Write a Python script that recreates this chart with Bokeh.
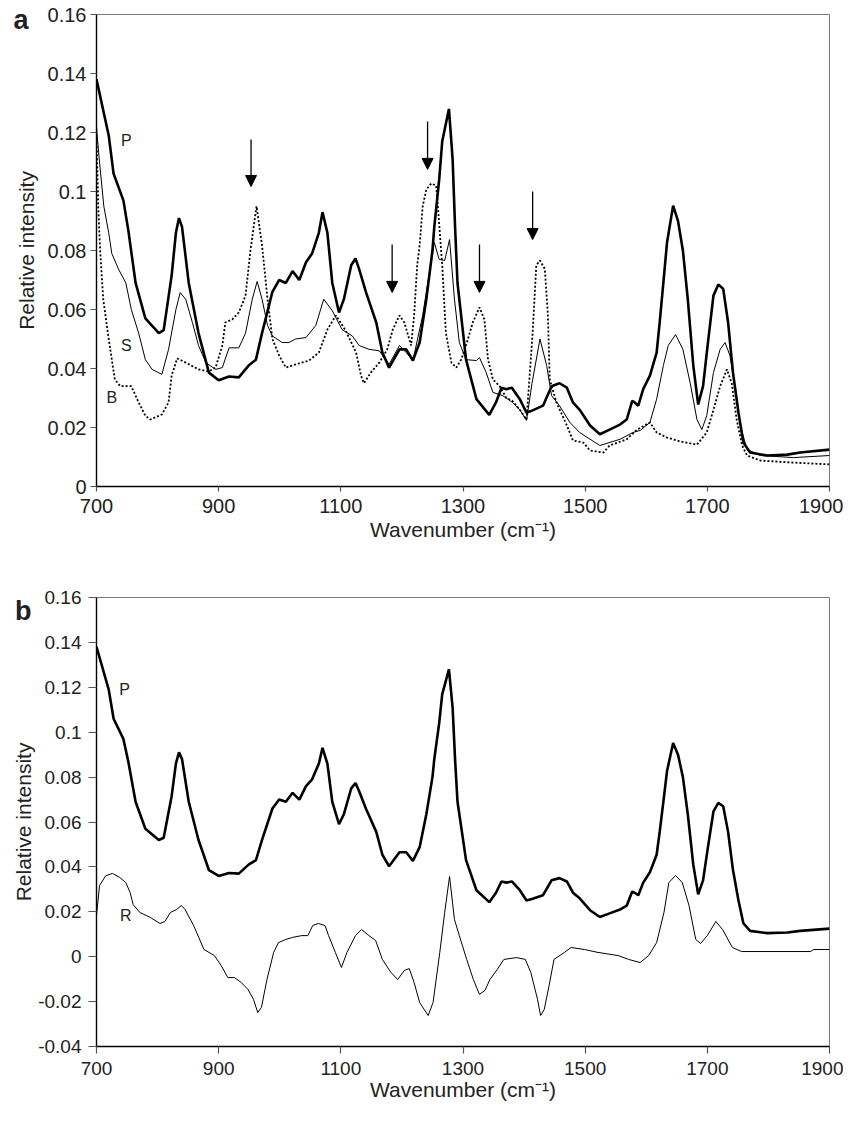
from bokeh.plotting import figure
from bokeh.layouts import column
from bokeh.models import (FixedTicker, CustomJSTickFormatter, Arrow, NormalHead, Label, Range1d,
                          LinearAxis)
from bokeh.embed import file_html
from bokeh.resources import INLINE

FONT = "Liberation Sans"
TXT = "#222222"

# ---------------- data ----------------
P_x = [700, 720, 728, 744, 752, 764, 780, 802, 810, 823, 830, 835, 840, 851, 867, 884, 900, 917, 933, 949,
       961, 971, 988, 999, 1010, 1021, 1032, 1043, 1053, 1064, 1070, 1078, 1086, 1097, 1105, 1117, 1124, 1130,
       1141, 1158, 1168, 1179, 1196, 1207, 1218, 1229, 1240, 1250, 1253, 1261, 1266, 1277, 1283, 1287, 1291,
       1305, 1322, 1343, 1354, 1363, 1371, 1380, 1393, 1404, 1414, 1431, 1445, 1458, 1470, 1480, 1491, 1508,
       1524, 1540, 1557, 1568, 1577, 1581, 1587, 1595, 1606, 1617, 1622, 1628, 1634, 1644, 1652, 1660, 1668,
       1677, 1685, 1693, 1701, 1710, 1718, 1726, 1734, 1742, 1751, 1759, 1770, 1798, 1831, 1852, 1900]
P_y = [0.138, 0.119, 0.106, 0.097, 0.087, 0.069, 0.057, 0.052, 0.053, 0.0715, 0.086, 0.091, 0.088, 0.069,
       0.052, 0.0386, 0.036, 0.0373, 0.037, 0.041, 0.043, 0.052, 0.066, 0.070, 0.069, 0.073, 0.070, 0.076,
       0.079, 0.086, 0.093, 0.086, 0.069, 0.059, 0.0635, 0.075, 0.0773, 0.0737, 0.066, 0.0556, 0.0454, 0.0403,
       0.0465, 0.0465, 0.0427, 0.0488, 0.0635, 0.080, 0.088, 0.104, 0.117, 0.128, 0.111, 0.088, 0.069, 0.043,
       0.0296, 0.0243, 0.0285, 0.0335, 0.033, 0.0335, 0.0296, 0.025, 0.0258, 0.0274, 0.034, 0.035, 0.0335,
       0.0285, 0.026, 0.0207, 0.0177, 0.0193, 0.021, 0.0227, 0.029, 0.0285, 0.0274, 0.033, 0.0376, 0.0454,
       0.0556, 0.069, 0.0827, 0.0952, 0.090, 0.080, 0.0635, 0.041, 0.0278, 0.034, 0.0488, 0.0647, 0.0685,
       0.067, 0.0556, 0.0386, 0.025, 0.0149, 0.0115, 0.0105, 0.0108, 0.0115, 0.0125]

S_x = [700, 704, 712, 720, 725, 736, 748, 757, 769, 780, 791, 807, 818, 830, 837, 846, 857, 867, 879, 895,
       906, 917, 933, 944, 955, 963, 971, 980, 988, 1004, 1015, 1026, 1043, 1059, 1072, 1086, 1102, 1119, 1130,
       1146, 1163, 1179, 1196, 1207, 1218, 1234, 1245, 1253, 1261, 1270, 1278, 1286, 1294, 1305, 1322, 1327,
       1338, 1349, 1365, 1381, 1393, 1404, 1413, 1426, 1437, 1445, 1458, 1475, 1491, 1524, 1557, 1578, 1590,
       1606, 1617, 1628, 1636, 1648, 1660, 1672, 1683, 1691, 1699, 1710, 1721, 1729, 1737, 1746, 1754, 1765,
       1787, 1841, 1900]
S_y = [0.122, 0.112, 0.095, 0.086, 0.079, 0.0737, 0.069, 0.060, 0.052, 0.043, 0.0397, 0.038, 0.0465, 0.060,
       0.0657, 0.0635, 0.0556, 0.0478, 0.042, 0.0397, 0.0403, 0.047, 0.047, 0.052, 0.0635, 0.0695, 0.0635,
       0.0546, 0.051, 0.0488, 0.0488, 0.050, 0.0505, 0.0546, 0.0635, 0.0596, 0.0532, 0.051, 0.0478, 0.0465,
       0.046, 0.0414, 0.0478, 0.0454, 0.0427, 0.058, 0.0725, 0.0827, 0.077, 0.0766, 0.0837, 0.0635, 0.0488,
       0.043, 0.0427, 0.0437, 0.0386, 0.0319, 0.0308, 0.0285, 0.026, 0.0224, 0.035, 0.050, 0.041, 0.0308,
       0.0274, 0.0217, 0.0183, 0.0139, 0.016, 0.0183, 0.019, 0.0217, 0.0296, 0.041, 0.0478, 0.0515, 0.0465,
       0.035, 0.0227, 0.0193, 0.024, 0.0386, 0.0465, 0.0488, 0.0444, 0.033, 0.0207, 0.0125, 0.0105, 0.0098,
       0.0105]

B_x = [700, 703, 706, 711, 720, 730, 739, 757, 769, 780, 788, 807, 818, 823, 832, 846, 867, 884, 895, 906,
       911, 922, 933, 944, 952, 962, 971, 980, 988, 999, 1010, 1026, 1048, 1064, 1078, 1092, 1108, 1125, 1133,
       1138, 1149, 1163, 1176, 1185, 1196, 1204, 1215, 1220, 1225, 1229, 1234, 1240, 1248, 1256, 1260, 1264,
       1266, 1272, 1281, 1289, 1297, 1305, 1316, 1327, 1335, 1341, 1349, 1360, 1371, 1381, 1393, 1404, 1414,
       1420, 1426, 1434, 1439, 1442, 1453, 1470, 1480, 1497, 1508, 1530, 1540, 1568, 1585, 1606, 1617, 1634,
       1655, 1683, 1699, 1710, 1721, 1732, 1740, 1748, 1757, 1765, 1787, 1841, 1900]
B_y = [0.118, 0.094, 0.080, 0.0635, 0.050, 0.0363, 0.034, 0.034, 0.0285, 0.024, 0.0227, 0.0244, 0.0285,
       0.0376, 0.0434, 0.042, 0.0397, 0.039, 0.0403, 0.0478, 0.0556, 0.0566, 0.059, 0.0647, 0.080, 0.095,
       0.0817, 0.0635, 0.050, 0.0444, 0.0403, 0.0414, 0.0427, 0.0454, 0.0532, 0.058, 0.0528, 0.0454, 0.0376,
       0.035, 0.0386, 0.042, 0.0465, 0.0532, 0.058, 0.0556, 0.0478, 0.058, 0.075, 0.0817, 0.095, 0.1007,
       0.1027, 0.102, 0.0918, 0.0805, 0.075, 0.052, 0.042, 0.0403, 0.043, 0.0478, 0.0556, 0.0607, 0.0566,
       0.043, 0.0363, 0.034, 0.030, 0.029, 0.026, 0.0227, 0.052, 0.075, 0.0766, 0.0737, 0.058, 0.0363, 0.0285,
       0.0207, 0.0156, 0.0149, 0.0122, 0.0115, 0.0139, 0.016, 0.0193, 0.0217, 0.0183, 0.0166, 0.0153, 0.0142,
       0.0183, 0.026, 0.034, 0.0397, 0.035, 0.0227, 0.0139, 0.0105, 0.0088, 0.0081, 0.0075]

R_x = [700, 705, 715, 726, 738, 748, 755, 760, 771, 788, 804, 812, 821, 831, 839, 845, 859, 876, 893, 904,
       915, 926, 937, 948, 957, 964, 970, 979, 990, 998, 1010, 1021, 1036, 1046, 1054, 1063, 1074, 1080, 1091,
       1101, 1110, 1124, 1134, 1146, 1157, 1168, 1182, 1193, 1204, 1212, 1220, 1229, 1243, 1251, 1262, 1270,
       1278, 1286, 1294, 1306, 1317, 1327, 1336, 1344, 1356, 1367, 1388, 1402, 1411, 1422, 1427, 1433, 1441,
       1449, 1466, 1477, 1499, 1521, 1554, 1571, 1590, 1604, 1617, 1629, 1637, 1648, 1659, 1670, 1681, 1689,
       1700, 1714, 1725, 1741, 1756, 1869, 1874, 1900]
R_y = [0.0184, 0.0317, 0.036, 0.0371, 0.0353, 0.033, 0.0286, 0.0232, 0.0197, 0.0175, 0.0148, 0.0157,
       0.0197, 0.021, 0.0228, 0.021, 0.0139, 0.0032, 0.0005, -0.0039, -0.0093, -0.0093, -0.0115, -0.0146,
       -0.019, -0.0249, -0.0226, -0.0102, 0.0019, 0.0063, 0.0077, 0.0086, 0.0094, 0.0094, 0.0139, 0.0148,
       0.0139, 0.0094, 0.0019, -0.0048, 0.0019, 0.0094, 0.0121, 0.0094, 0.0072, -0.0012, -0.007, -0.0102,
       -0.0061, -0.0053, -0.0115, -0.0204, -0.0262, -0.0204, 0.0019, 0.0197, 0.0357, 0.0166, 0.0094, -0.0012,
       -0.0102, -0.0168, -0.015, -0.0102, -0.0057, -0.0012, -0.0004, -0.0012, -0.007, -0.019, -0.0262, -0.0235,
       -0.0128, -0.0012, 0.0019, 0.0041, 0.0032, 0.0019, 0.0005, -0.0012, -0.0026, 0.0005, 0.0063, 0.0197,
       0.033, 0.0362, 0.033, 0.0228, 0.0077, 0.0059, 0.0094, 0.0157, 0.0121, 0.0041, 0.0023, 0.0023, 0.0032,
       0.0032]

# arrows in panel a (wavenumber, start, tip)
ARROW_X = [953, 1184, 1242, 1327, 1414]
ARROW_TOP = [0.1176, 0.082, 0.1237, 0.082, 0.100]
ARROW_TIP = [0.1017, 0.0658, 0.1075, 0.0658, 0.0837]

X_TICKS = [700, 900, 1100, 1300, 1500, 1700, 1900]
YA_TICKS = [0, 0.02, 0.04, 0.06, 0.08, 0.1, 0.12, 0.14, 0.16]
YB_TICKS = [-0.04, -0.02, 0, 0.02, 0.04, 0.06, 0.08, 0.1, 0.12, 0.14, 0.16]

FMT = CustomJSTickFormatter(code="""
var s = tick.toFixed(2);
if (s.indexOf('.') >= 0) { s = s.replace(/0+$/, '').replace(/\\.$/, ''); }
if (s === '-0') { s = '0'; }
return s;
""")


def style(p, yticks, tick_font, xtick_out, xstand, xlab_stand, ytick_out, ystand, ylab_stand):
    p.xaxis.ticker = FixedTicker(ticks=X_TICKS)
    p.yaxis.ticker = FixedTicker(ticks=yticks)
    p.yaxis.formatter = FMT
    p.xgrid.visible = False
    p.ygrid.visible = False
    p.outline_line_color = "#7a7a7a"
    p.outline_line_width = 1
    for ax in (p.xaxis[0], p.yaxis[0]):
        ax.axis_line_color = "black"
        ax.axis_line_width = 1.4
        ax.major_tick_line_color = "#555555"
        ax.major_tick_line_width = 1.2
        ax.major_tick_in = 0
        ax.minor_tick_line_color = None
        ax.major_label_text_font = FONT
        ax.major_label_text_font_size = tick_font
        ax.major_label_text_color = TXT
        ax.axis_label_text_font = FONT
        ax.axis_label_text_font_size = "21px"
        ax.axis_label_text_font_style = "normal"
        ax.axis_label_text_color = TXT
    p.xaxis.major_tick_out = xtick_out
    p.yaxis.major_tick_out = ytick_out
    p.xaxis.major_label_standoff = xstand
    p.yaxis.major_label_standoff = ystand
    p.xaxis.axis_label = "Wavenumber (cm\u207b\u00b9)"
    p.yaxis.axis_label = "Relative intensity"
    p.xaxis.axis_label_standoff = xlab_stand
    p.yaxis.axis_label_standoff = ylab_stand


def panel_letter(p, letter, ypos, standoff):
    # an extra, line-less left axis carrying the single panel letter as its tick label
    ax = LinearAxis(ticker=FixedTicker(ticks=[ypos]),
                    formatter=CustomJSTickFormatter(code="return '%s';" % letter),
                    axis_line_color=None, major_tick_line_color=None, minor_tick_line_color=None,
                    major_tick_in=0, major_tick_out=0, major_label_standoff=standoff,
                    major_label_text_font=FONT, major_label_text_font_size="27px",
                    major_label_text_font_style="bold", major_label_text_color=TXT)
    p.add_layout(ax, "left")


def lab(p, x, y, t, size="16px"):
    p.add_layout(Label(x=x, y=y, text=t, text_font=FONT, text_font_size=size, text_color=TXT,
                       text_align="center", text_baseline="middle"))


# ---------------- panel a ----------------
pa = figure(width=843, height=555, output_backend="svg", toolbar_location=None,
            x_range=Range1d(700, 1900), y_range=Range1d(0, 0.16),
            min_border_left=90, min_border_right=14, min_border_top=14, min_border_bottom=69)
style(pa, YA_TICKS, "20px", 5, 7, 2, 6, 4, 7)
pa.line(B_x, B_y, line_color="black", line_width=1.8, line_dash="2 2")
pa.line(S_x, S_y, line_color="black", line_width=1.0)
pa.line(P_x, P_y, line_color="black", line_width=2.6)
for xa, ys, ye in zip(ARROW_X, ARROW_TOP, ARROW_TIP):
    pa.add_layout(Arrow(x_start=xa, y_start=ys, x_end=xa, y_end=ye, line_color="black", line_width=1.3,
                        end=NormalHead(size=11, fill_color="black", line_color="black", line_width=1)))
lab(pa, 749, 0.1173, "P")
lab(pa, 749, 0.0478, "S")
lab(pa, 725, 0.0302, "B")
panel_letter(pa, "a", 0.158, -17)

# ---------------- panel b ----------------
pb = figure(width=843, height=558, output_backend="svg", toolbar_location=None,
            x_range=Range1d(700, 1900), y_range=Range1d(-0.04, 0.16),
            min_border_left=96, min_border_right=14, min_border_top=42, min_border_bottom=67)
style(pb, YB_TICKS, "19px", 7, 8, 0, 8, 7, 0)
pb.line(R_x, R_y, line_color="black", line_width=1.0)
pb.line(P_x, P_y, line_color="black", line_width=2.6)
lab(pb, 746, 0.119, "P")
lab(pb, 748, 0.0184, "R")
panel_letter(pb, "b", 0.154, -22)

layout = column(pa, pb, spacing=0)
open("out.html", "w").write(file_html(layout, INLINE))
